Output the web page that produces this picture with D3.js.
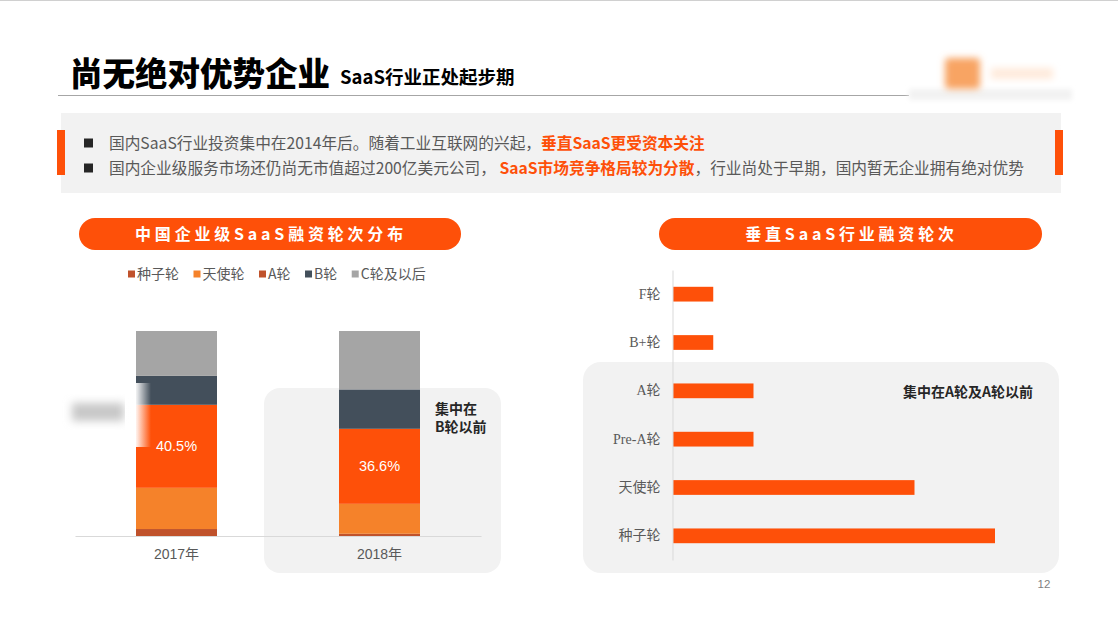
<!DOCTYPE html>
<html><head><meta charset="utf-8">
<script src="https://cdn.jsdelivr.net/npm/d3@7"></script>
<style>
html,body{margin:0;padding:0;background:#fff;}
svg{display:block;font-family:"Noto Sans CJK SC","Noto Sans",sans-serif;}
</style></head>
<body>
<svg id="c" width="1118" height="629"></svg>
<script>
// ---------- data ----------
const years = ["2017年", "2018年"];
const stackKeys = ["种子轮", "天使轮", "A轮", "B轮", "C轮及以后"];
const seedShare  = [3.4, 1.1];
const angelShare = [20.1, 14.6];
const aShare     = [40.5, 36.6];
const bShare     = [14.1, 19.2];
const cShare     = [21.9, 28.5];
const aLabels    = ["40.5%", "36.6%"];

const roundCats   = ["F轮", "B+轮", "A轮", "Pre-A轮", "天使轮", "种子轮"];
const roundValues = [1, 1, 2, 2, 6, 8];

const bulletLines = [
  ["国内SaaS行业投资集中在2014年后。随着工业互联网的兴起，", "垂直SaaS更受资本关注", ""],
  ["国内企业级服务市场还仍尚无市值超过200亿美元公司， ", "SaaS市场竞争格局较为分散", "，行业尚处于早期，国内暂无企业拥有绝对优势"]
];

// ---------- styles ----------
const ORANGE = "#fe5009";
const stackColors = ["#c0522b", "#f5822a", "#fe5009", "#434f5b", "#a5a5a5"];
const legendColors = ["#c0522b", "#f5822a", "#c0522b", "#434f5b", "#a5a5a5"];
const SANS_LATIN = "'Liberation Sans','Noto Sans CJK SC',sans-serif";
const SERIF_LATIN = "'Liberation Serif','Noto Sans CJK SC',serif";

const svg = d3.select("#c");
const defs = svg.append("defs");
function blur(id, sd){
  defs.append("filter").attr("id",id).attr("x","-50%").attr("y","-50%").attr("width","200%").attr("height","200%")
    .append("feGaussianBlur").attr("stdDeviation", sd);
}
blur("blur4", 4); blur("blur2", 2.5); blur("blur3", 3.5);
const wg = defs.append("linearGradient").attr("id","whiteFade").attr("x1","0").attr("x2","1").attr("y1","0").attr("y2","0");
wg.append("stop").attr("offset","0").attr("stop-color","#fff").attr("stop-opacity",1);
wg.append("stop").attr("offset","0.45").attr("stop-color","#fff").attr("stop-opacity",0.9);
wg.append("stop").attr("offset","1").attr("stop-color","#fff").attr("stop-opacity",0);

// top border
svg.append("line").attr("x1",0).attr("x2",1118).attr("y1",0.5).attr("y2",0.5).attr("stroke","#d0d0d0");

// ---------- title ----------
svg.append("text").attr("x",70).attr("y",86).attr("font-size",32.5).attr("font-weight",900)
  .attr("fill","#000").text("尚无绝对优势企业");
svg.append("text").attr("x",340).attr("y",84).attr("font-size",18.5).attr("font-weight",700)
  .attr("fill","#000").text("SaaS行业正处起步期");
svg.append("line").attr("x1",58).attr("x2",909).attr("y1",95.5).attr("y2",95.5).attr("stroke","#a6a6a6").attr("stroke-width",1.2);

// logo (blurred)
svg.append("rect").attr("x",909).attr("y",89).attr("width",163).attr("height",11).attr("fill","#f2f2f2").attr("filter","url(#blur2)");
svg.append("rect").attr("x",945).attr("y",58).attr("width",35).attr("height",31).attr("rx",4).attr("fill","#f8a464").attr("filter","url(#blur3)");
svg.append("rect").attr("x",991).attr("y",68).attr("width",62).attr("height",11).attr("fill","#feeadb").attr("filter","url(#blur3)");

// ---------- bullet box ----------
svg.append("rect").attr("x",61).attr("y",113).attr("width",1000).attr("height",80).attr("fill","#f2f2f2");
svg.append("rect").attr("x",57).attr("y",130).attr("width",8).attr("height",45).attr("fill",ORANGE);
svg.append("rect").attr("x",1055).attr("y",130).attr("width",8).attr("height",45).attr("fill",ORANGE);
bulletLines.forEach((ln,i)=>{
  const cy = 143 + i*25;
  svg.append("rect").attr("x",84).attr("y",cy-4.5).attr("width",9).attr("height",9).attr("fill","#262626");
  const t = svg.append("text").attr("x",109).attr("y",cy+5.5).attr("font-size",15.7).attr("fill","#595959");
  t.append("tspan").text(ln[0]);
  t.append("tspan").attr("font-weight",700).attr("fill",ORANGE).text(ln[1]);
  if (ln[2]) t.append("tspan").text(ln[2]);
});

// ---------- pills ----------
function pill(x, w, label){
  svg.append("rect").attr("x",x).attr("y",218).attr("width",w).attr("height",32).attr("rx",16).attr("fill",ORANGE);
  svg.append("text").attr("x",x+w/2+1).attr("y",240).attr("text-anchor","middle").attr("font-size",16)
    .attr("font-weight",700).attr("letter-spacing","3.8px").attr("fill","#fff").text(label);
}
pill(79, 382, "中国企业级SaaS融资轮次分布");
pill(659, 383, "垂直SaaS行业融资轮次");

// ---------- left chart ----------
svg.append("rect").attr("x",264).attr("y",388).attr("width",237).attr("height",185).attr("rx",16).attr("fill","#f2f2f2");

// legend
let lx = 128;
stackKeys.forEach((k,i)=>{
  svg.append("rect").attr("x",lx).attr("y",270.5).attr("width",7).attr("height",7).attr("fill",legendColors[i]);
  const t = svg.append("text").attr("x",lx+9).attr("y",279).attr("font-size",14).attr("fill","#595959").text(k);
  lx += 9 + t.node().getComputedTextLength() + 14.5;
});

const table = years.map((y,i)=>({year:y, "种子轮":seedShare[i], "天使轮":angelShare[i], "A轮":aShare[i], "B轮":bShare[i], "C轮及以后":cShare[i]}));
const series = d3.stack().keys(stackKeys)(table);
const xB = d3.scaleBand().domain(years).range([75,481]).paddingInner(0.601).paddingOuter(0.3005);
const yL = d3.scaleLinear().domain([0,100]).range([536,331]);

series.forEach((s,si)=>{
  svg.append("g").selectAll("rect").data(s).join("rect")
    .attr("x",d=>xB(d.data.year)).attr("width",xB.bandwidth())
    .attr("y",d=>yL(d[1])).attr("height",d=>yL(d[0])-yL(d[1]))
    .attr("fill",stackColors[si]);
});
// A labels
svg.append("g").selectAll("text").data(series[2]).join("text")
  .attr("x",d=>xB(d.data.year)+xB.bandwidth()/2).attr("y",d=>(yL(d[0])+yL(d[1]))/2+5)
  .attr("text-anchor","middle").attr("font-size",14.5).attr("fill","#fff")
  .style("font-family",SANS_LATIN).text((d,i)=>aLabels[i]);

const xAxis = svg.append("g").attr("transform","translate(0,536)").call(d3.axisBottom(xB).tickSize(0).tickPadding(10));
xAxis.select(".domain").attr("stroke","#d9d9d9");
xAxis.selectAll("text").attr("font-size",14).attr("fill","#595959")
  .style("font-family",SANS_LATIN).attr("dy","0.95em");

// blurred overlay at left
svg.append("rect").attr("x",72).attr("y",403).attr("width",52).attr("height",18).attr("fill","#c8c8c8").attr("filter","url(#blur4)");
svg.append("rect").attr("x",125).attr("y",383).attr("width",26).attr("height",64).attr("fill","url(#whiteFade)");

svg.append("text").attr("x",435).attr("y",414).attr("font-size",14).attr("font-weight",700).attr("fill","#262626").text("集中在");
svg.append("text").attr("x",435).attr("y",432).attr("font-size",14).attr("font-weight",700).attr("fill","#262626").text("B轮以前");

// ---------- right chart ----------
svg.append("rect").attr("x",583).attr("y",362).attr("width",476).attr("height",211).attr("rx",18).attr("fill","#f2f2f2");

const yR = d3.scaleBand().domain(roundCats).range([270,560]).paddingInner(0.695).paddingOuter(0.3475);
const xR = d3.scaleLinear().domain([0,8]).range([673,995]);

svg.append("g").selectAll("rect").data(roundCats).join("rect")
  .attr("x",xR(0)).attr("y",d=>yR(d)).attr("height",yR.bandwidth())
  .attr("width",(d,i)=>xR(roundValues[i])-xR(0)).attr("fill",ORANGE);

const yAxis = svg.append("g").attr("transform","translate(672.5,0)").call(d3.axisLeft(yR).tickSize(0).tickPadding(12));
yAxis.select(".domain").attr("stroke","#d9d9d9");
yAxis.selectAll("text").attr("font-size",14).attr("fill","#595959").style("font-family",SERIF_LATIN);

svg.append("text").attr("x",1033).attr("y",397).attr("text-anchor","end").attr("font-size",14).attr("font-weight",700)
  .attr("fill","#262626").text("集中在A轮及A轮以前");

// page number
svg.append("text").attr("x",1044).attr("y",588).attr("text-anchor","middle").attr("font-size",11.5)
  .attr("fill","#7f7f7f").style("font-family",SANS_LATIN).text("12");
</script>
</body></html>
